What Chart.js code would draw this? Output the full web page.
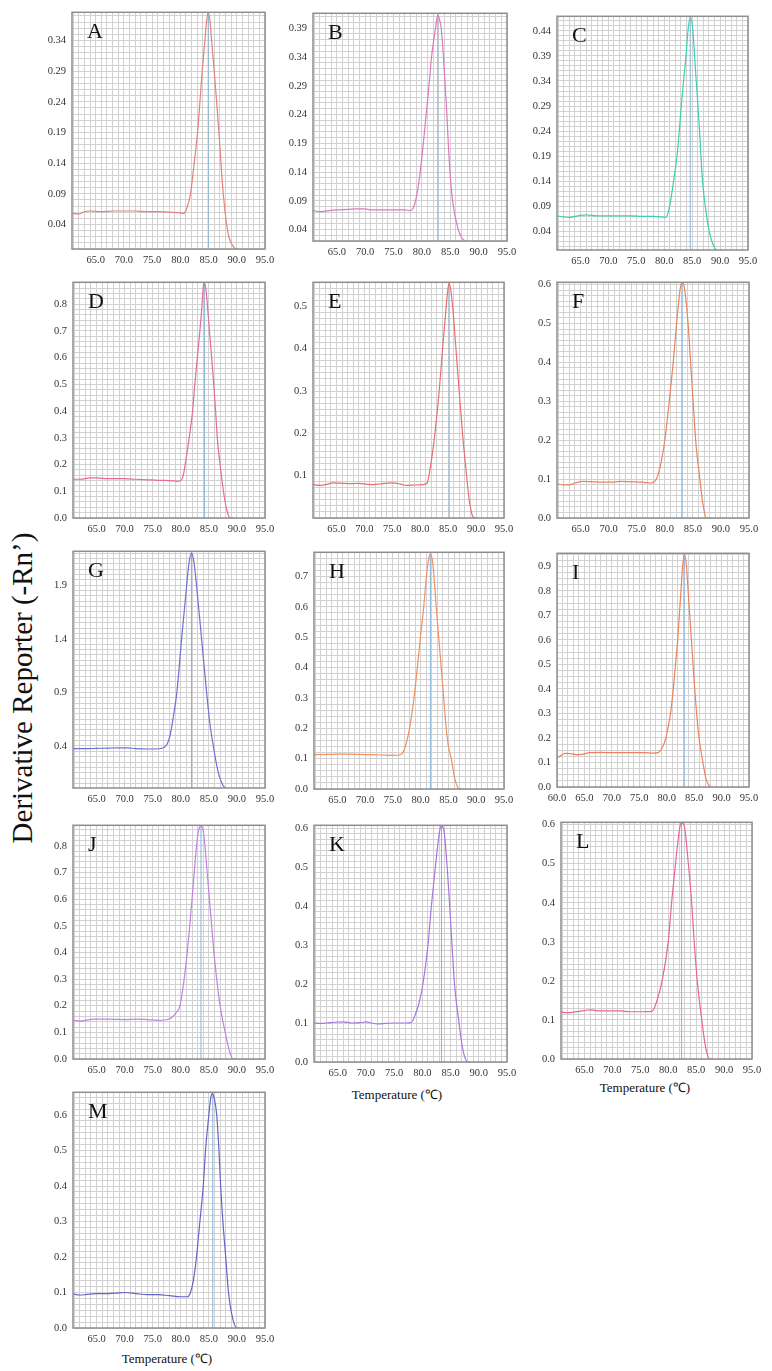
<!DOCTYPE html>
<html>
<head>
<meta charset="utf-8">
<script src="https://cdn.jsdelivr.net/npm/chart.js@4.4.1/dist/chart.umd.min.js"></script>
<style>
body{margin:0;background:#fff;width:772px;height:1371px;position:relative;overflow:hidden;font-family:'Liberation Serif','Times New Roman',serif;}
canvas{position:absolute;}
.lt{position:absolute;font-size:22px;line-height:1;color:#111;}
.ctr{position:absolute;white-space:nowrap;transform:translate(-50%,-50%);color:#111;}
.ytl{font-size:29px;transform:translate(-50%,-50%) rotate(-90deg);}
.xtl{font-size:13px;}
</style>
</head>
<body>
<div class="ctr ytl" style="left:22px;top:688px;">Derivative Reporter (-Rn’)</div>
<div class="ctr xtl" style="left:397px;top:1094px;">Temperature (℃)</div>
<div class="ctr xtl" style="left:645px;top:1087px;">Temperature (℃)</div>
<div class="ctr xtl" style="left:167px;top:1358px;">Temperature (℃)</div>
<script>
// melt curves (temperature °C / derivative reporter)
const tempsA = [60.8, 62, 63, 64, 66, 68, 70, 72, 74, 76, 78, 80, 80.6, 81.2, 81.8, 82.45, 83.05, 83.47, 83.87, 84.35, 84.65, 84.94, 85.25, 85.54, 86.0, 86.43, 86.84, 87.2, 87.6, 88.2, 88.6, 89.1, 89.7, 90.0];
const valsA  = [0.058, 0.057, 0.061, 0.062, 0.061, 0.062, 0.062, 0.062, 0.061, 0.061, 0.060, 0.059, 0.058, 0.068, 0.09, 0.14, 0.19, 0.24, 0.29, 0.34, 0.372, 0.386, 0.372, 0.34, 0.29, 0.24, 0.19, 0.14, 0.09, 0.04, 0.02, 0.008, 0.001, 0];
const tempsB = [60.8, 62, 63, 65, 67, 68.5, 70, 71, 73, 75, 77, 78, 78.5, 79.0, 79.7, 80.25, 80.75, 81.25, 81.7, 82.4, 82.8, 83.1, 83.4, 83.8, 84.1, 84.4, 84.65, 84.95, 85.4, 86.4, 87.0, 87.6];
const valsB  = [0.073, 0.071, 0.072, 0.074, 0.075, 0.076, 0.076, 0.074, 0.074, 0.074, 0.074, 0.073, 0.078, 0.095, 0.14, 0.19, 0.24, 0.29, 0.34, 0.39, 0.413, 0.405, 0.39, 0.34, 0.29, 0.24, 0.19, 0.14, 0.09, 0.04, 0.026, 0.02];
const tempsC = [60.8, 62, 63, 64, 65, 66, 68, 70, 72, 74, 76, 78, 79.5, 80.3, 80.6, 80.96, 81.67, 82.28, 82.7, 83.05, 83.46, 83.9, 84.25, 84.66, 85.14, 85.43, 85.73, 86.04, 86.33, 86.58, 86.86, 87.35, 88.06, 88.7, 89.3, 89.9];
const valsC  = [0.071, 0.069, 0.068, 0.070, 0.072, 0.073, 0.071, 0.071, 0.071, 0.071, 0.070, 0.070, 0.069, 0.068, 0.074, 0.09, 0.14, 0.19, 0.24, 0.29, 0.34, 0.39, 0.44, 0.468, 0.44, 0.39, 0.34, 0.29, 0.24, 0.19, 0.14, 0.09, 0.04, 0.015, 0.003, 0];
const tempsD = [60.8, 62, 64, 65, 67, 70, 72, 74, 76, 78, 79.5, 80.2, 80.5, 80.77, 81.5, 82.1, 82.5, 82.95, 83.4, 83.8, 84.0, 84.2, 84.45, 84.73, 85.1, 85.5, 85.87, 86.2, 86.5, 87.0, 87.6, 88.2, 88.8, 89.4];
const valsD  = [0.145, 0.145, 0.15, 0.15, 0.147, 0.147, 0.145, 0.143, 0.141, 0.14, 0.137, 0.145, 0.165, 0.2, 0.3, 0.4, 0.5, 0.6, 0.7, 0.8, 0.865, 0.88, 0.86, 0.8, 0.7, 0.6, 0.5, 0.4, 0.3, 0.2, 0.1, 0.03, 0, 0];
const tempsE = [60.8, 62, 63, 64.5, 66, 67.5, 69, 71, 73, 75, 76.5, 77.5, 79, 80.5, 81.2, 81.56, 82.1, 82.63, 83.4, 84.0, 84.65, 84.95, 85.18, 85.45, 85.8, 86.4, 86.97, 87.57, 88.3, 88.8, 89.5, 90.1];
const valsE  = [0.079, 0.077, 0.079, 0.083, 0.082, 0.081, 0.082, 0.079, 0.081, 0.083, 0.08, 0.077, 0.078, 0.079, 0.082, 0.1, 0.145, 0.2, 0.3, 0.4, 0.5, 0.54, 0.555, 0.54, 0.5, 0.4, 0.3, 0.2, 0.1, 0.04, 0.002, 0];
const tempsF = [60.8, 62, 63, 64, 65.5, 67, 69, 70.5, 72, 74, 76, 77.5, 78, 78.5, 79.3, 80.0, 80.8, 81.5, 82.1, 82.8, 83.1, 83.45, 84.15, 84.6, 85.05, 85.5, 86.25, 86.8, 87.4, 88];
const valsF  = [0.088, 0.085, 0.085, 0.09, 0.094, 0.093, 0.092, 0.092, 0.094, 0.093, 0.092, 0.09, 0.092, 0.1, 0.14, 0.2, 0.3, 0.4, 0.5, 0.595, 0.605, 0.595, 0.5, 0.4, 0.3, 0.2, 0.1, 0.035, 0, 0];
const tempsG = [60.8, 63, 65, 67, 69, 70.5, 72, 74, 76, 77, 77.6, 78.1, 78.7, 79.3, 80.15, 81.05, 81.5, 81.9, 82.3, 82.8, 83.7, 84.6, 85.2, 85.8, 86.4, 86.97, 87.86, 88.5, 89.3];
const valsG  = [0.375, 0.375, 0.378, 0.38, 0.383, 0.383, 0.375, 0.372, 0.374, 0.385, 0.42, 0.5, 0.68, 0.9, 1.4, 1.9, 2.12, 2.2, 2.13, 1.9, 1.4, 0.9, 0.6, 0.4, 0.22, 0.1, 0.01, 0, 0];
const tempsH = [60.8, 63, 65, 67, 69, 71, 73, 75, 76.3, 76.8, 77.4, 78.0, 78.8, 79.4, 79.95, 80.55, 81.03, 81.4, 81.75, 82.1, 82.4, 82.8, 83.25, 83.7, 84.15, 84.6, 85.0, 85.5, 86.2, 87.0, 87.6];
const valsH  = [0.113, 0.114, 0.115, 0.115, 0.114, 0.113, 0.112, 0.111, 0.113, 0.12, 0.15, 0.2, 0.3, 0.4, 0.5, 0.6, 0.7, 0.755, 0.775, 0.755, 0.7, 0.6, 0.5, 0.4, 0.3, 0.2, 0.14, 0.1, 0.03, 0, 0];
const tempsI = [60, 60.7, 61.5, 62.5, 63.5, 64.5, 66, 68, 70, 72, 74, 76, 77.5, 78.4, 79.06, 79.85, 80.3, 80.7, 81.2, 81.6, 82.0, 82.3, 82.6, 82.9, 83.2, 83.6, 83.9, 84.2, 84.5, 84.8, 85.1, 85.45, 85.9, 86.6, 87.2, 87.9];
const valsI  = [0.118, 0.128, 0.137, 0.136, 0.132, 0.133, 0.14, 0.141, 0.14, 0.14, 0.14, 0.14, 0.138, 0.14, 0.155, 0.2, 0.25, 0.3, 0.4, 0.5, 0.6, 0.7, 0.8, 0.9, 0.95, 0.9, 0.8, 0.7, 0.6, 0.5, 0.4, 0.3, 0.2, 0.1, 0.03, 0];
const tempsJ = [60.8, 62, 63, 64.5, 66, 68, 70, 72, 74, 76, 78, 78.6, 79.2, 79.85, 80.6, 81.15, 81.6, 82.0, 82.4, 82.8, 83.2, 83.6, 84.0, 84.3, 84.7, 85.1, 85.5, 85.9, 86.4, 87.0, 87.9, 88.6, 89.3, 89.9];
const valsJ  = [0.145, 0.142, 0.145, 0.15, 0.15, 0.149, 0.148, 0.15, 0.148, 0.145, 0.15, 0.16, 0.175, 0.2, 0.3, 0.4, 0.5, 0.6, 0.7, 0.8, 0.86, 0.875, 0.855, 0.8, 0.7, 0.6, 0.5, 0.4, 0.3, 0.2, 0.1, 0.035, 0, 0];
const tempsK = [60.8, 62, 63, 64.5, 66, 67.5, 69, 70, 71, 72, 73.5, 75, 77, 78, 78.7, 79.4, 80.1, 81.0, 81.6, 82.3, 83.1, 83.4, 83.8, 84.4, 84.85, 85.25, 85.7, 86.5, 87.2, 88.1, 88.6];
const valsK  = [0.1, 0.099, 0.1, 0.102, 0.103, 0.1, 0.101, 0.103, 0.1, 0.098, 0.099, 0.1, 0.1, 0.101, 0.12, 0.15, 0.2, 0.3, 0.4, 0.5, 0.595, 0.605, 0.595, 0.5, 0.4, 0.3, 0.2, 0.1, 0.03, 0, 0];
const tempsL = [60.8, 62, 63, 64, 65, 66, 67, 68.5, 70, 71.5, 73, 75, 77, 77.5, 78.2, 78.9, 80.0, 80.6, 81.3, 82.1, 82.4, 82.9, 83.6, 84.2, 84.65, 85.2, 86.0, 86.7, 87.45, 87.9];
const valsL  = [0.12, 0.118, 0.12, 0.122, 0.124, 0.126, 0.124, 0.123, 0.123, 0.123, 0.121, 0.121, 0.122, 0.13, 0.16, 0.2, 0.3, 0.4, 0.5, 0.595, 0.605, 0.595, 0.5, 0.4, 0.3, 0.2, 0.1, 0.03, 0, 0];
const tempsM = [60.8, 62, 63, 65, 67, 68.5, 70, 72, 74, 76, 78, 80, 81.2, 81.6, 82.2, 82.8, 83.4, 84.0, 84.4, 85.0, 85.3, 85.6, 86.0, 86.4, 86.8, 87.1, 87.5, 88.0, 88.5, 89.2, 90.0, 90.5];
const valsM  = [0.096, 0.093, 0.094, 0.097, 0.097, 0.098, 0.1, 0.097, 0.094, 0.094, 0.091, 0.088, 0.088, 0.095, 0.13, 0.2, 0.3, 0.4, 0.5, 0.6, 0.645, 0.66, 0.645, 0.6, 0.5, 0.4, 0.3, 0.2, 0.1, 0.03, 0, 0];

const panelLetters = ['A','B','C','D','E','F','G','H','I','J','K','L','M'];
const allTemps = [tempsA, tempsB, tempsC, tempsD, tempsE, tempsF, tempsG, tempsH, tempsI, tempsJ, tempsK, tempsL, tempsM];
const allVals  = [valsA, valsB, valsC, valsD, valsE, valsF, valsG, valsH, valsI, valsJ, valsK, valsL, valsM];
const peakTemps = [84.94, 82.8, 84.66, 84.2, 85.18, 83.1, 81.9, 81.75, 83.2, 83.6, 83.4, 82.4, 85.7];

// axes
const xMins = [60.8, 60.8, 60.8, 60.8, 60.8, 60.8, 60.8, 60.8, 60, 60.8, 60.8, 60.8, 60.8];
const xMax = 95;
const xFirstLabel = [65, 65, 65, 65, 65, 65, 65, 65, 60, 65, 65, 65, 65];
const yMins = [0, 0.02, 0.003, 0, 0, 0, 0.008, 0, 0, 0, 0, 0, 0];
const yMaxs = [0.386, 0.416, 0.469, 0.882, 0.557, 0.606, 2.216, 0.78, 0.953, 0.877, 0.607, 0.606, 0.664];
const yTickStart = [0.04, 0.04, 0.04, 0, 0.1, 0, 0.4, 0, 0, 0, 0, 0, 0];
const yTickStep  = [0.05, 0.05, 0.05, 0.1, 0.1, 0.1, 0.5, 0.1, 0.1, 0.1, 0.1, 0.1, 0.1];
const yMinorDiv  = [5, 5, 5, 5, 7, 7, 10, 5, 4, 5, 7, 7, 6];
const yDecimals  = [2, 2, 2, 1, 1, 1, 1, 1, 1, 1, 1, 1, 1];

const lineColors = ['#e3817c', '#dd78c0', '#3ccfae', '#e26b9c', '#e86f6f', '#e8845f', '#6f70d2', '#ef9162', '#ee805f', '#c183df', '#aa74de', '#e8649c', '#6464c4'];
const tmColor = '#86b3d8';

// plot-area boxes on the page: left, top, right, bottom
const boxes = [
  [72, 8, 265, 249], [313, 9, 507, 241], [557, 12, 748, 250],
  [73, 278, 265, 518], [313, 278, 504, 518], [557, 278, 749, 518],
  [73, 547, 265, 788], [314, 548, 504, 789], [557, 549, 749, 787],
  [73, 821, 265, 1059], [314, 821, 507, 1062], [561, 818, 752, 1059],
  [73, 1088, 265, 1328]
];
const YW = 44, PT = 8, XH = 24, PR = 16;
const tickFont = {family: "'Liberation Serif', 'Times New Roman', serif", size: 10.5};

const framePlugin = {
  id: 'frame',
  afterDraw(c) {
    const a = c.chartArea, ctx = c.ctx;
    ctx.save();
    ctx.strokeStyle = '#8e8e8e';
    ctx.lineWidth = 1.5;
    ctx.strokeRect(a.left, a.top, a.right - a.left, a.bottom - a.top);
    ctx.restore();
  }
};

panelLetters.forEach((letter, i) => {
  const [L, T, R, B] = boxes[i];
  const cv = document.createElement('canvas');
  cv.width = (R - L) + YW + PR;
  cv.height = (B - T) + PT + XH;
  cv.style.left = (L - YW) + 'px';
  cv.style.top = (T - PT) + 'px';
  document.body.appendChild(cv);

  const lt = document.createElement('div');
  lt.className = 'lt';
  lt.textContent = letter;
  lt.style.left = (L + 15) + 'px';
  lt.style.top = (T + 12) + 'px';
  document.body.appendChild(lt);

  const curve = allTemps[i].map((t, k) => ({x: t, y: allVals[i][k]}));
  const tmLine = [{x: peakTemps[i], y: yMins[i]}, {x: peakTemps[i], y: yMaxs[i]}];

  new Chart(cv, {
    type: 'line',
    data: {
      datasets: [
        {data: curve, borderColor: lineColors[i], borderWidth: 1.2, pointRadius: 0, cubicInterpolationMode: 'monotone', order: 0},
        {data: tmLine, borderColor: tmColor, borderWidth: 1, pointRadius: 0, order: 1}
      ]
    },
    options: {
      responsive: false, animation: false, events: [],
      layout: {padding: {top: PT, right: PR, left: 0, bottom: 0}},
      plugins: {legend: {display: false}, tooltip: {enabled: false}},
      scales: {
        x: {
          type: 'linear', min: xMins[i], max: xMax,
          afterBuildTicks: s => {
            const t = [];
            for (let v = Math.ceil(xMins[i]); v <= xMax; v++) t.push({value: v});
            s.ticks = t;
          },
          afterFit: s => { s.height = XH; },
          grid: {color: '#d2d2d2', lineWidth: 1, drawTicks: false},
          border: {display: false},
          ticks: {
            autoSkip: false, maxRotation: 0, minRotation: 0, padding: 5, color: '#333', font: tickFont,
            callback: v => (v % 5 === 0 && v >= xFirstLabel[i]) ? v.toFixed(1) : ''
          }
        },
        y: {
          min: yMins[i], max: yMaxs[i],
          afterBuildTicks: s => {
            const step = yTickStep[i] / yMinorDiv[i], st = yTickStart[i];
            const j0 = Math.ceil((yMins[i] - st) / step - 1e-9), j1 = Math.floor((yMaxs[i] - st) / step + 1e-9);
            const t = [];
            for (let j = j0; j <= j1; j++) t.push({value: st + j * step, show: j >= 0 && j % yMinorDiv[i] === 0});
            s.ticks = t;
          },
          afterFit: s => { s.width = YW; },
          grid: {color: '#d2d2d2', lineWidth: 1, drawTicks: false},
          border: {display: false},
          ticks: {
            autoSkip: false, padding: 6, color: '#333', font: tickFont,
            callback: (v, k, ticks) => ticks[k].show ? v.toFixed(yDecimals[i]) : ''
          }
        }
      }
    },
    plugins: [framePlugin]
  });
});
</script>
</body>
</html>
